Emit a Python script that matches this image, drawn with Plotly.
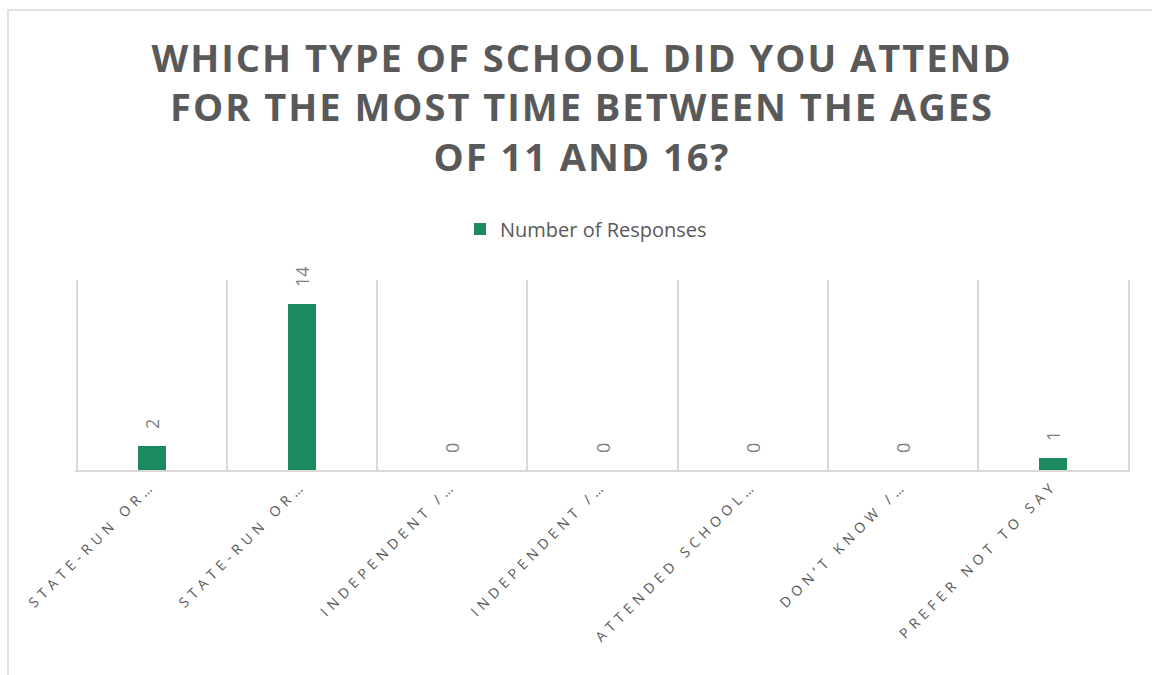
import plotly.graph_objects as go

# ── data ────────────────────────────────────────────────────────────────
categories = [
    "State-run or state-funded school – selective on academic, faith or other grounds",
    "State-run or state-funded school – non-selective",
    "Independent / fee-paying school",
    "Independent / fee-paying school – with a means-tested bursary",
    "Attended school outside the UK",
    "Don't know / unsure",
    "Prefer not to say",
]
tick_labels = [
    "STATE-RUN OR…",
    "STATE-RUN OR…",
    "INDEPENDENT /…",
    "INDEPENDENT /…",
    "ATTENDED SCHOOL…",
    "DON’T KNOW /…",
    "PREFER NOT TO SAY",
]
responses = [2, 14, 0, 0, 0, 0, 1]

# ── style ───────────────────────────────────────────────────────────────
GREEN = "#1B8A5E"
TEXT = "#595959"
LABEL = "#808080"
GRID = "#D9D9D9"
FONT = "Open Sans, sans-serif"

W, H = 1152, 675
L, R, T, B = 75, 22, 280, 205
pw, ph = W - L - R, H - T - B

fig = go.Figure(go.Bar(
    x=categories, y=responses, name="Number of Responses",
    marker=dict(color=GREEN, line=dict(width=0)),
    width=0.185,
    # leading no-break spaces lift the rotated label off the bar top, as in Excel
    texttemplate="\u00a0\u00a0\u00a0%{y}", textposition="outside",
    textangle=-90, cliponaxis=False, constraintext="none",
    textfont=dict(color=LABEL, size=18, family=FONT),
))

fig.update_layout(
    width=W, height=H,
    paper_bgcolor="white", plot_bgcolor="white",
    font=dict(family=FONT, color=TEXT),
    margin=dict(l=L, r=R, t=T, b=B),
    title=dict(
        text="WHICH TYPE OF SCHOOL DID YOU ATTEND<br>FOR THE MOST TIME BETWEEN THE AGES<br>OF 11 AND 16?",
        x=582 / W, xanchor="center", xref="container",
        y=1 - 72 / H, yanchor="top", yref="container",
        font=dict(size=38, color=TEXT, family=FONT, weight="bold"),
    ),
    showlegend=True,
    legend=dict(
        orientation="h", x=(586 - L) / pw, xanchor="center",
        y=(H - B - 229) / ph, yanchor="middle",
        font=dict(size=20, color=TEXT, family=FONT),
        itemwidth=30, bgcolor="rgba(0,0,0,0)",
    ),
    xaxis=dict(
        tickmode="array", tickvals=categories, ticktext=tick_labels,
        tickangle=-45, tickson="boundaries", ticks="",
        showgrid=True, gridcolor=GRID, gridwidth=1.5,
        showline=True, linecolor=GRID, linewidth=1.5,
        tickfont=dict(size=14, color=TEXT, family=FONT),
        range=[-0.51, 6.51],
    ),
    yaxis=dict(
        range=[0, 16], showgrid=False, zeroline=False,
        showticklabels=False, showline=False,
    ),
    bargap=0,
    shapes=[dict(
        type="rect", xref="paper", yref="paper",
        x0=(8 - L) / pw, x1=(W + 20 - L) / pw,
        y0=(H - B - (H + 20)) / ph, y1=(H - B - 10) / ph,
        line=dict(color=GRID, width=1.5), fillcolor="rgba(0,0,0,0)", layer="below",
    )],
)

letter_spacing = """
var s = document.createElement('style');
s.innerHTML = 'body{margin:0;} .xtick text{letter-spacing:5px;} .gtitle{letter-spacing:2px;}';
document.head.appendChild(s);
"""

fig.write_html("out.html", post_script=letter_spacing,
               config={"displayModeBar": False})
